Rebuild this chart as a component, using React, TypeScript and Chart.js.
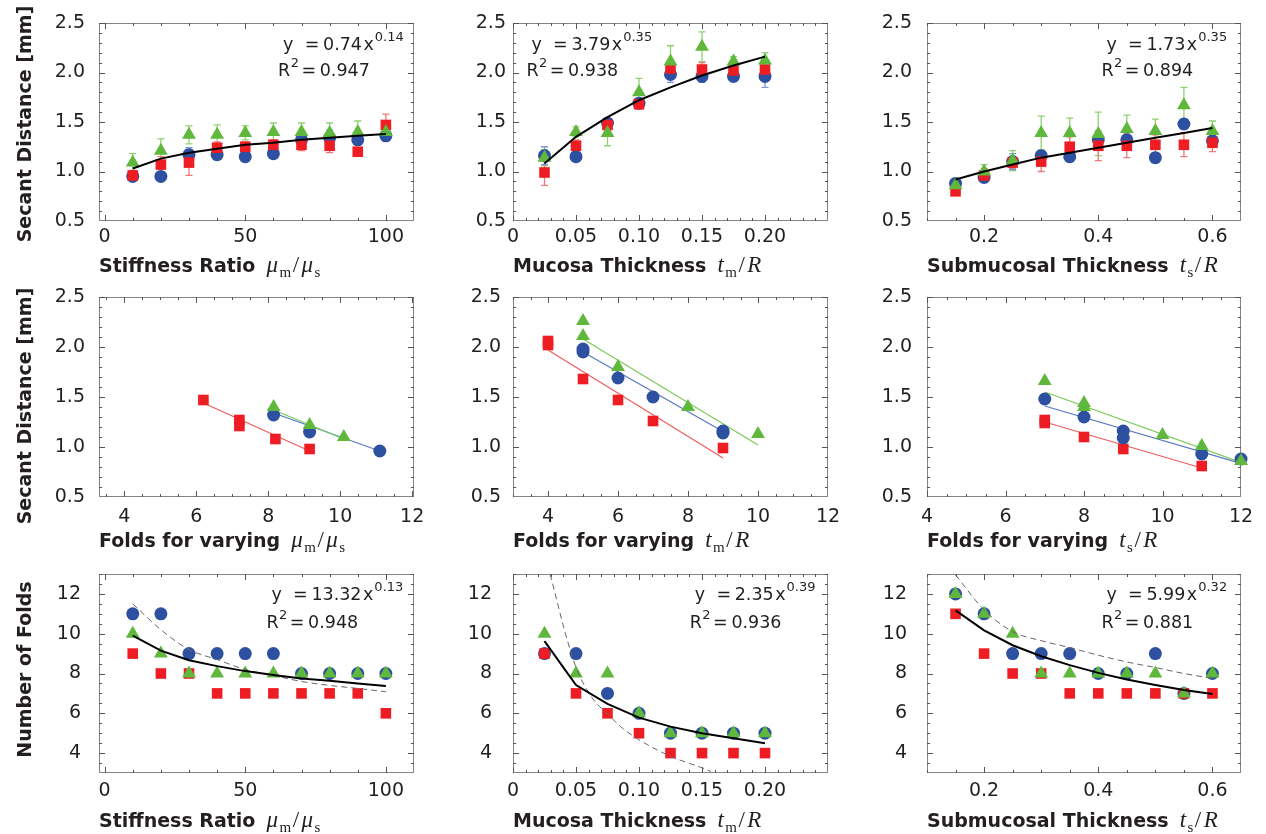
import React, { useEffect, useRef } from "react";
import { Chart, registerables } from "chart.js";
Chart.register(...registerables);

// ---------------- DATA ----------------
const stiffX = [10, 20, 30, 40, 50, 60, 70, 80, 90, 100];
const mucX = [0.025, 0.05, 0.075, 0.1, 0.125, 0.15, 0.175, 0.2];
const subX = [0.15, 0.2, 0.25, 0.3, 0.35, 0.4, 0.45, 0.5, 0.55, 0.6];

// Row 1: secant distance vs parameter
const sdStiffBlue = [0.95, 0.95, 1.17, 1.17, 1.15, 1.18, 1.32, 1.34, 1.32, 1.36];
const sdStiffRed = [0.96, 1.07, 1.09, 1.24, 1.25, 1.27, 1.27, 1.26, 1.2, 1.47];
const sdStiffGreen = [1.09, 1.21, 1.37, 1.37, 1.39, 1.4, 1.4, 1.39, 1.4, 1.4];
const sdStiffFit = [1.03, 1.13, 1.19, 1.23, 1.27, 1.29, 1.32, 1.34, 1.36, 1.38];
const sdStiffBlueErr = [0.04, 0.03, 0.07, 0.05, 0.03, 0.04, 0.05, 0.08, 0.05, 0.05];
const sdStiffRedErr = [0.05, 0.08, 0.13, 0.06, 0.05, 0.05, 0.06, 0.07, 0.04, 0.11];
const sdStiffGreenErr = [0.09, 0.12, 0.09, 0.1, 0.07, 0.09, 0.09, 0.1, 0.11, 0.08];

const sdMucBlue = [1.16, 1.15, 1.49, 1.69, 1.98, 1.96, 1.96, 1.96];
const sdMucRed = [0.99, 1.26, 1.47, 1.68, 2.04, 2.03, 2.02, 2.03];
const sdMucGreen = [1.14, 1.4, 1.39, 1.8, 2.11, 2.26, 2.11, 2.12];
const sdMucFit = [1.08, 1.35, 1.55, 1.72, 1.85, 1.97, 2.07, 2.16];
const sdMucBlueErr = [0.09, 0.04, 0.03, 0.04, 0.08, 0.06, 0.05, 0.11];
const sdMucRedErr = [0.13, 0.06, 0.05, 0.05, 0.07, 0.07, 0.05, 0.1];
const sdMucGreenErr = [0.08, 0.05, 0.13, 0.14, 0.16, 0.15, 0.05, 0.08];

const sdSubBlue = [0.88, 0.94, 1.1, 1.16, 1.15, 1.32, 1.32, 1.14, 1.48, 1.31];
const sdSubRed = [0.8, 0.96, 1.09, 1.1, 1.25, 1.26, 1.26, 1.27, 1.27, 1.29];
const sdSubGreen = [0.86, 1.0, 1.11, 1.39, 1.39, 1.38, 1.43, 1.41, 1.67, 1.41];
const sdSubFit = [0.92, 1.0, 1.07, 1.14, 1.19, 1.24, 1.29, 1.34, 1.39, 1.44];
const sdSubBlueErr = [0.05, 0.05, 0.08, 0.05, 0.05, 0.06, 0.05, 0.05, 0.05, 0.06];
const sdSubRedErr = [0.04, 0.07, 0.06, 0.1, 0.1, 0.15, 0.12, 0.1, 0.12, 0.09];
const sdSubGreenErr = [0.06, 0.07, 0.1, 0.17, 0.15, 0.22, 0.14, 0.12, 0.18, 0.1];

// Row 2: secant distance vs folds
const fsStiffRedX = [6.2, 7.2, 7.2, 8.2, 9.15];
const fsStiffRedY = [1.47, 1.27, 1.21, 1.08, 0.98];
const fsStiffBlueX = [8.15, 9.15, 11.1];
const fsStiffBlueY = [1.32, 1.15, 0.96];
const fsStiffGreenX = [8.15, 9.15, 10.1];
const fsStiffGreenY = [1.4, 1.22, 1.1];
const fsStiffRedLineX = [6.2, 9.15];
const fsStiffRedLineY = [1.44, 0.96];
const fsStiffBlueLineX = [8.15, 11.1];
const fsStiffBlueLineY = [1.34, 0.96];
const fsStiffGreenLineX = [8.15, 10.1];
const fsStiffGreenLineY = [1.37, 1.08];

const fsMucRedX = [4, 4, 5, 6, 7, 9];
const fsMucRedY = [2.02, 2.06, 1.68, 1.47, 1.26, 0.99];
const fsMucBlueX = [5, 5, 6, 7, 9, 9];
const fsMucBlueY = [1.95, 1.98, 1.69, 1.5, 1.14, 1.16];
const fsMucGreenX = [5, 5, 6, 8, 10];
const fsMucGreenY = [2.26, 2.11, 1.8, 1.4, 1.13];
const fsMucRedLineX = [4, 9];
const fsMucRedLineY = [1.97, 0.89];
const fsMucBlueLineX = [5, 9];
const fsMucBlueLineY = [1.95, 1.155];
const fsMucGreenLineX = [5, 10];
const fsMucGreenLineY = [2.08, 1.02];

const fsSubRedX = [7, 7, 8, 9, 11];
const fsSubRedY = [1.24, 1.27, 1.1, 0.98, 0.81];
const fsSubBlueX = [7, 8, 9, 9, 11, 12];
const fsSubBlueY = [1.48, 1.3, 1.16, 1.09, 0.93, 0.88];
const fsSubGreenX = [7, 8, 8, 10, 11, 12];
const fsSubGreenY = [1.66, 1.4, 1.44, 1.12, 1.01, 0.86];
const fsSubRedLineX = [7, 11];
const fsSubRedLineY = [1.25, 0.79];
const fsSubBlueLineX = [7, 12];
const fsSubBlueLineY = [1.41, 0.835];
const fsSubGreenLineX = [7, 12];
const fsSubGreenLineY = [1.55, 0.845];

// Row 3: number of folds
const nfStiffBlue = [11, 11, 9, 9, 9, 9, 8, 8, 8, 8];
const nfStiffRed = [9, 8, 8, 7, 7, 7, 7, 7, 7, 6];
const nfStiffGreen = [10, 9, 8, 8, 8, 8, 8, 8, 8, 8];
const nfStiffFit = [9.9, 9.15, 8.67, 8.37, 8.12, 7.92, 7.75, 7.63, 7.5, 7.37];
const nfStiffDash = [11.5, 10.2, 9.2, 8.7, 8.2, 7.9, 7.6, 7.4, 7.25, 7.08];

const nfMucBlue = [9, 9, 7, 6, 5, 5, 5, 5];
const nfMucRed = [9, 7, 6, 5, 4, 4, 4, 4];
const nfMucGreen = [10, 8, 8, 6, 5, 5, 5, 5];
const nfMucFit = [9.63, 7.42, 6.47, 5.78, 5.33, 5.0, 4.75, 4.5];
const nfMucDashX = [0.0295, 0.0348, 0.0402, 0.0455, 0.0508, 0.064, 0.0747, 0.0854, 0.1, 0.1253, 0.1505, 0.157];
const nfMucDashY = [13.0, 11.67, 10.33, 9.17, 8.17, 6.67, 6.0, 5.33, 4.67, 3.83, 3.25, 3.08];

const nfSubBlue = [12, 11, 9, 9, 9, 8, 8, 9, 7, 8];
const nfSubRed = [11, 9, 8, 8, 7, 7, 7, 7, 7, 7];
const nfSubGreen = [12, 11, 10, 8, 8, 8, 8, 8, 7, 8];
const nfSubFit = [11.17, 10.17, 9.42, 8.87, 8.42, 8.03, 7.7, 7.42, 7.17, 6.97];
const nfSubDash = [12.95, 11.2, 10.1, 9.65, 9.3, 8.92, 8.58, 8.3, 8.0, 7.75];

// Fit equations: [coefficient, exponent, R^2]
const eqSdStiff = ["0.74", "0.14", "0.947"];
const eqSdMuc = ["3.79", "0.35", "0.938"];
const eqSdSub = ["1.73", "0.35", "0.894"];
const eqNfStiff = ["13.32", "0.13", "0.948"];
const eqNfMuc = ["2.35", "0.39", "0.936"];
const eqNfSub = ["5.99", "0.32", "0.881"];

// Tick values and labels
const stiffTicks = [0, 50, 100];
const stiffLabels = ["0", "50", "100"];
const mucTicks = [0, 0.05, 0.1, 0.15, 0.2];
const mucLabels = ["0", "0.05", "0.10", "0.15", "0.20"];
const subTicks = [0.2, 0.4, 0.6];
const subLabels = ["0.2", "0.4", "0.6"];
const foldTicks = [4, 6, 8, 10, 12];
const foldLabels = ["4", "6", "8", "10", "12"];
const secTicks = [0.5, 1, 1.5, 2, 2.5];
const secLabels = ["0.5", "1.0", "1.5", "2.0", "2.5"];
const nfTicks = [4, 6, 8, 10, 12];
const nfLabels = ["4", "6", "8", "10", "12"];

// Axis titles
const yTitles = ["Secant Distance [mm]", "Secant Distance [mm]", "Number of Folds"];

// ---------------- LAYOUT / STYLE ----------------
const BOX_L = [99, 513, 927];
const BOX_W = [315, 315, 314];
const BOX_T = [23, 297, 574];
const BOX_H = [198, 200, 199];
const YW = 99;
const PADT = 23;
const PADR = 16;
const XH = 62;
const Y_LABEL_PAD = [
  [14, 7, 15],
  [14, 12, 15],
  [18, 21, 20],
];
const X_LABEL_PAD = [5, 8.5, 6.5];
const X_TITLE_DY = [51, 49.5, 54];
const Y_TITLE_DY = [2, 9, -4];
const EQ_B = [
  [26.9, 52.9],
  [0, 0],
  [26.3, 54.3],
];
const TEXT = "#231f20";
const SANS = '"DejaVu Sans"';
const SERIF = '"Liberation Serif"';

const MK: Record<string, any> = {
  blue: { style: "circle", r: 6.5, color: "#2d50a0", err: "#8098d0", line: "#5877c4" },
  red: { style: "rect", r: 7.5, color: "#ee1d23", err: "#f07878", line: "#f05a5a" },
  green: { style: "triangle", r: 8, color: "#5fb83c", err: "#8fd172", line: "#7acb5a" },
};

type MathPart = [string, "i" | "r" | "sub"];
type MarkerSet = { x: number[]; y: number[]; kind: "blue" | "red" | "green"; err?: number[] };
type LineSet = { x: number[]; y: number[]; kind: "fit" | "dash" | "blue" | "red" | "green" };
type PanelDef = {
  r: number;
  c: number;
  xMin: number;
  xMax: number;
  yMin: number;
  yMax: number;
  xTicks: number[];
  xLabels: string[];
  xMinor: number;
  yTicks: number[];
  yLabels: string[];
  yMinor: number;
  markers: MarkerSet[];
  topLines: LineSet[];
  bottomLines: LineSet[];
  titleMain: string;
  titleMath: MathPart[];
  eq?: string[];
  eqDx?: number;
};

const mathStiff: MathPart[] = [["μ", "i"], ["m", "sub"], ["/", "r"], ["μ", "i"], ["s", "sub"]];
const mathMuc: MathPart[] = [["t", "i"], ["m", "sub"], ["/", "r"], ["R", "i"]];
const mathSub: MathPart[] = [["t", "i"], ["s", "sub"], ["/", "r"], ["R", "i"]];

const PANELS: PanelDef[] = [
  {
    r: 0, c: 0, xMin: -2, xMax: 110, yMin: 0.5, yMax: 2.5,
    xTicks: stiffTicks, xLabels: stiffLabels, xMinor: 10,
    yTicks: secTicks, yLabels: secLabels, yMinor: 0.1,
    markers: [
      { x: stiffX, y: sdStiffGreen, kind: "green", err: sdStiffGreenErr },
      { x: stiffX, y: sdStiffRed, kind: "red", err: sdStiffRedErr },
      { x: stiffX, y: sdStiffBlue, kind: "blue", err: sdStiffBlueErr },
    ],
    topLines: [{ x: stiffX, y: sdStiffFit, kind: "fit" }],
    bottomLines: [],
    titleMain: "Stiffness Ratio", titleMath: mathStiff,
    eq: eqSdStiff, eqDx: 179,
  },
  {
    r: 0, c: 1, xMin: 0, xMax: 0.25, yMin: 0.5, yMax: 2.5,
    xTicks: mucTicks, xLabels: mucLabels, xMinor: 0.01,
    yTicks: secTicks, yLabels: secLabels, yMinor: 0.1,
    markers: [
      { x: mucX, y: sdMucGreen, kind: "green", err: sdMucGreenErr },
      { x: mucX, y: sdMucRed, kind: "red", err: sdMucRedErr },
      { x: mucX, y: sdMucBlue, kind: "blue", err: sdMucBlueErr },
    ],
    topLines: [{ x: mucX, y: sdMucFit, kind: "fit" }],
    bottomLines: [],
    titleMain: "Mucosa Thickness", titleMath: mathMuc,
    eq: eqSdMuc, eqDx: 13.4,
  },
  {
    r: 0, c: 2, xMin: 0.1, xMax: 0.65, yMin: 0.5, yMax: 2.5,
    xTicks: subTicks, xLabels: subLabels, xMinor: 0.05,
    yTicks: secTicks, yLabels: secLabels, yMinor: 0.1,
    markers: [
      { x: subX, y: sdSubGreen, kind: "green", err: sdSubGreenErr },
      { x: subX, y: sdSubRed, kind: "red", err: sdSubRedErr },
      { x: subX, y: sdSubBlue, kind: "blue", err: sdSubBlueErr },
    ],
    topLines: [{ x: subX, y: sdSubFit, kind: "fit" }],
    bottomLines: [],
    titleMain: "Submucosal Thickness", titleMath: mathSub,
    eq: eqSdSub, eqDx: 174.4,
  },
  {
    r: 1, c: 0, xMin: 3.3, xMax: 12.05, yMin: 0.5, yMax: 2.5,
    xTicks: foldTicks, xLabels: foldLabels, xMinor: 0.5,
    yTicks: secTicks, yLabels: secLabels, yMinor: 0.1,
    markers: [
      { x: fsStiffGreenX, y: fsStiffGreenY, kind: "green" },
      { x: fsStiffBlueX, y: fsStiffBlueY, kind: "blue" },
      { x: fsStiffRedX, y: fsStiffRedY, kind: "red" },
    ],
    topLines: [],
    bottomLines: [
      { x: fsStiffGreenLineX, y: fsStiffGreenLineY, kind: "green" },
      { x: fsStiffBlueLineX, y: fsStiffBlueLineY, kind: "blue" },
      { x: fsStiffRedLineX, y: fsStiffRedLineY, kind: "red" },
    ],
    titleMain: "Folds for varying", titleMath: mathStiff,
  },
  {
    r: 1, c: 1, xMin: 3, xMax: 12, yMin: 0.5, yMax: 2.5,
    xTicks: foldTicks, xLabels: foldLabels, xMinor: 0.5,
    yTicks: secTicks, yLabels: secLabels, yMinor: 0.1,
    markers: [
      { x: fsMucGreenX, y: fsMucGreenY, kind: "green" },
      { x: fsMucBlueX, y: fsMucBlueY, kind: "blue" },
      { x: fsMucRedX, y: fsMucRedY, kind: "red" },
    ],
    topLines: [],
    bottomLines: [
      { x: fsMucGreenLineX, y: fsMucGreenLineY, kind: "green" },
      { x: fsMucBlueLineX, y: fsMucBlueLineY, kind: "blue" },
      { x: fsMucRedLineX, y: fsMucRedLineY, kind: "red" },
    ],
    titleMain: "Folds for varying", titleMath: mathMuc,
  },
  {
    r: 1, c: 2, xMin: 4, xMax: 12, yMin: 0.5, yMax: 2.5,
    xTicks: foldTicks, xLabels: foldLabels, xMinor: 0.5,
    yTicks: secTicks, yLabels: secLabels, yMinor: 0.1,
    markers: [
      { x: fsSubGreenX, y: fsSubGreenY, kind: "green" },
      { x: fsSubBlueX, y: fsSubBlueY, kind: "blue" },
      { x: fsSubRedX, y: fsSubRedY, kind: "red" },
    ],
    topLines: [],
    bottomLines: [
      { x: fsSubGreenLineX, y: fsSubGreenLineY, kind: "green" },
      { x: fsSubBlueLineX, y: fsSubBlueLineY, kind: "blue" },
      { x: fsSubRedLineX, y: fsSubRedLineY, kind: "red" },
    ],
    titleMain: "Folds for varying", titleMath: mathSub,
  },
  {
    r: 2, c: 0, xMin: -2, xMax: 110, yMin: 3, yMax: 13,
    xTicks: stiffTicks, xLabels: stiffLabels, xMinor: 10,
    yTicks: nfTicks, yLabels: nfLabels, yMinor: 0.5,
    markers: [
      { x: stiffX, y: nfStiffGreen, kind: "green" },
      { x: stiffX, y: nfStiffRed, kind: "red" },
      { x: stiffX, y: nfStiffBlue, kind: "blue" },
    ],
    topLines: [
      { x: stiffX, y: nfStiffFit, kind: "fit" },
      { x: stiffX, y: nfStiffDash, kind: "dash" },
    ],
    bottomLines: [],
    titleMain: "Stiffness Ratio", titleMath: mathStiff,
    eq: eqNfStiff, eqDx: 167.4,
  },
  {
    r: 2, c: 1, xMin: 0, xMax: 0.25, yMin: 3, yMax: 13,
    xTicks: mucTicks, xLabels: mucLabels, xMinor: 0.01,
    yTicks: nfTicks, yLabels: nfLabels, yMinor: 0.5,
    markers: [
      { x: mucX, y: nfMucGreen, kind: "green" },
      { x: mucX, y: nfMucRed, kind: "red" },
      { x: mucX, y: nfMucBlue, kind: "blue" },
    ],
    topLines: [
      { x: mucX, y: nfMucFit, kind: "fit" },
      { x: nfMucDashX, y: nfMucDashY, kind: "dash" },
    ],
    bottomLines: [],
    titleMain: "Mucosa Thickness", titleMath: mathMuc,
    eq: eqNfMuc, eqDx: 176.7,
  },
  {
    r: 2, c: 2, xMin: 0.1, xMax: 0.65, yMin: 3, yMax: 13,
    xTicks: subTicks, xLabels: subLabels, xMinor: 0.05,
    yTicks: nfTicks, yLabels: nfLabels, yMinor: 0.5,
    markers: [
      { x: subX, y: nfSubGreen, kind: "green" },
      { x: subX, y: nfSubRed, kind: "red" },
      { x: subX, y: nfSubBlue, kind: "blue" },
    ],
    topLines: [
      { x: subX, y: nfSubFit, kind: "fit" },
      { x: subX, y: nfSubDash, kind: "dash" },
    ],
    bottomLines: [],
    titleMain: "Submucosal Thickness", titleMath: mathSub,
    eq: eqNfSub, eqDx: 174.4,
  },
];

// ---------------- CHART BUILDING ----------------
const pts = (x: number[], y: number[]) => x.map((v, i) => ({ x: v, y: y[i] }));

function lineDataset(l: LineSet) {
  let color = "#000";
  let width = 2;
  let dash: number[] = [];
  if (l.kind === "dash") {
    color = "#666";
    width = 1;
    dash = [6, 4];
  } else if (l.kind !== "fit") {
    color = MK[l.kind].line;
    width = 1.2;
  }
  return {
    data: pts(l.x, l.y),
    showLine: true,
    pointRadius: 0,
    pointHoverRadius: 0,
    borderColor: color,
    borderWidth: width,
    borderDash: dash,
    tension: 0,
    cubicInterpolationMode: l.kind === "dash" ? "monotone" : "default",
    fill: false,
  };
}

function markerDataset(m: MarkerSet) {
  const st = MK[m.kind];
  return {
    data: pts(m.x, m.y),
    showLine: false,
    pointStyle: st.style,
    pointRadius: st.r,
    pointHoverRadius: st.r,
    pointBackgroundColor: st.color,
    pointBorderColor: st.color,
    pointBorderWidth: 0,
    clip: false,
    errorBars: m.err,
    errorColor: st.err,
  };
}

function stepValues(min: number, max: number, step: number) {
  const out: number[] = [];
  const k0 = Math.ceil(min / step - 1e-9);
  const k1 = Math.floor(max / step + 1e-9);
  for (let k = k0; k <= k1; k++) out.push(k * step);
  return out;
}

function makePlugin(p: PanelDef) {
  return {
    id: "panelDeco" + p.r + p.c,
    beforeDatasetsDraw(chart: any) {
      const { ctx, chartArea: a, scales } = chart;
      const xs = scales.x;
      const ys = scales.y;
      ctx.save();
      // frame
      ctx.strokeStyle = "#858585";
      ctx.lineWidth = 1;
      ctx.strokeRect(a.left + 0.5, a.top + 0.5, a.right - a.left - 1, a.bottom - a.top - 1);
      // inward ticks
      ctx.strokeStyle = "#555";
      const tickX = (v: number, len: number) => {
        const px = Math.round(xs.getPixelForValue(v)) + 0.5;
        if (px < a.left || px > a.right) return;
        ctx.beginPath();
        ctx.moveTo(px, a.bottom);
        ctx.lineTo(px, a.bottom - len);
        ctx.moveTo(px, a.top);
        ctx.lineTo(px, a.top + len);
        ctx.stroke();
      };
      const tickY = (v: number, len: number) => {
        const py = Math.round(ys.getPixelForValue(v)) + 0.5;
        if (py < a.top || py > a.bottom) return;
        ctx.beginPath();
        ctx.moveTo(a.left, py);
        ctx.lineTo(a.left + len, py);
        ctx.moveTo(a.right, py);
        ctx.lineTo(a.right - len, py);
        ctx.stroke();
      };
      stepValues(p.xMin, p.xMax, p.xMinor).forEach((v) => tickX(v, 3));
      p.xTicks.forEach((v) => tickX(v, 6));
      stepValues(p.yMin, p.yMax, p.yMinor).forEach((v) => tickY(v, 3));
      p.yTicks.forEach((v) => tickY(v, 6));
      // error bars
      chart.data.datasets.forEach((ds: any) => {
        if (!ds.errorBars) return;
        ctx.strokeStyle = ds.errorColor;
        ctx.lineWidth = 1.3;
        ds.data.forEach((d: any, i: number) => {
          const e = ds.errorBars[i];
          const px = xs.getPixelForValue(d.x);
          const y1 = ys.getPixelForValue(d.y - e);
          const y2 = ys.getPixelForValue(d.y + e);
          ctx.beginPath();
          ctx.moveTo(px, y1);
          ctx.lineTo(px, y2);
          ctx.moveTo(px - 3.5, y1);
          ctx.lineTo(px + 3.5, y1);
          ctx.moveTo(px - 3.5, y2);
          ctx.lineTo(px + 3.5, y2);
          ctx.stroke();
        });
      });
      ctx.restore();
    },
    afterDraw(chart: any) {
      const { ctx, chartArea: a } = chart;
      ctx.save();
      ctx.fillStyle = TEXT;
      ctx.textAlign = "left";
      ctx.textBaseline = "alphabetic";
      // x title
      const by = a.bottom + X_TITLE_DY[p.r];
      ctx.font = `bold 19px ${SANS}`;
      ctx.fillText(p.titleMain, a.left, by);
      let xx = a.left + ctx.measureText(p.titleMain).width + 11;
      for (const [t, k] of p.titleMath) {
        if (k === "i") ctx.font = `italic 23px ${SERIF}`;
        else if (k === "sub") ctx.font = `15px ${SERIF}`;
        else ctx.font = `23px ${SERIF}`;
        ctx.fillText(t, xx, k === "sub" ? by + 5 : by);
        xx += ctx.measureText(t).width + (k === "r" ? 2.5 : 1.5);
      }
      // y title
      if (p.c === 0) {
        ctx.save();
        ctx.translate(a.left - 73.2, (a.top + a.bottom) / 2 + Y_TITLE_DY[p.r]);
        ctx.rotate(-Math.PI / 2);
        ctx.font = `bold 19px ${SANS}`;
        ctx.textAlign = "center";
        ctx.textBaseline = "middle";
        ctx.fillText(yTitles[p.r], 0, 0);
        ctx.restore();
      }
      // equation
      if (p.eq) {
        const [coef, ex, r2] = p.eq;
        const x0 = a.left + (p.eqDx || 0);
        const b1 = a.top + EQ_B[p.r][0];
        const b2 = a.top + EQ_B[p.r][1];
        const EQF = `17.5px ${SANS}`;
        const SUPF = `13px ${SANS}`;
        ctx.font = EQF;
        ctx.fillText("y", x0 + 5, b1);
        ctx.fillText("=", x0 + 26.7, b1);
        let ex0 = x0 + 26.7 + 18.3;
        ctx.fillText(coef, ex0, b1);
        ex0 += ctx.measureText(coef).width + 1.5;
        ctx.fillText("x", ex0, b1);
        ex0 += ctx.measureText("x").width + 1;
        ctx.font = SUPF;
        ctx.fillText(ex, ex0, b1 - 9);
        ctx.font = EQF;
        ctx.fillText("R", x0, b2);
        const rw = ctx.measureText("R").width;
        ctx.font = SUPF;
        ctx.fillText("2", x0 + rw + 0.5, b2 - 9);
        ctx.font = EQF;
        ctx.fillText("=", x0 + 23.4, b2);
        ctx.fillText(r2, x0 + 23.4 + 18.3, b2);
      }
      ctx.restore();
    },
  };
}

function buildConfig(p: PanelDef): any {
  const datasets: any[] = [
    ...p.topLines.map(lineDataset),
    ...p.markers.map(markerDataset),
    ...p.bottomLines.map(lineDataset),
  ];
  const tickFont = { family: "DejaVu Sans", size: 19 };
  return {
    type: "scatter",
    data: { datasets },
    options: {
      responsive: false,
      animation: false,
      events: [],
      layout: { padding: { left: 0, top: PADT, right: PADR, bottom: 0 } },
      plugins: {
        legend: { display: false },
        tooltip: { enabled: false },
        title: { display: false },
      },
      scales: {
        x: {
          type: "linear",
          min: p.xMin,
          max: p.xMax,
          grid: { display: false, drawTicks: false },
          border: { display: false },
          ticks: {
            font: tickFont,
            color: TEXT,
            padding: X_LABEL_PAD[p.r],
            autoSkip: false,
            maxRotation: 0,
            minRotation: 0,
            callback: (_v: any, i: number) => p.xLabels[i],
          },
          afterBuildTicks: (s: any) => {
            s.ticks = p.xTicks.map((v) => ({ value: v }));
          },
          afterFit: (s: any) => {
            s.height = XH;
            s.paddingLeft = 0;
            s.paddingRight = 0;
          },
        },
        y: {
          type: "linear",
          min: p.yMin,
          max: p.yMax,
          grid: { display: false, drawTicks: false },
          border: { display: false },
          ticks: {
            font: tickFont,
            color: TEXT,
            padding: Y_LABEL_PAD[p.r][p.c],
            autoSkip: false,
            callback: (_v: any, i: number) => p.yLabels[i],
          },
          afterBuildTicks: (s: any) => {
            s.ticks = p.yTicks.map((v) => ({ value: v }));
          },
          afterFit: (s: any) => {
            s.width = YW;
            s.paddingTop = 0;
            s.paddingBottom = 0;
          },
        },
      },
    },
    plugins: [makePlugin(p)],
  };
}

function PanelChart({ p }: { p: PanelDef }) {
  const ref = useRef<HTMLCanvasElement>(null);
  const W = YW + BOX_W[p.c] + PADR;
  const H = PADT + BOX_H[p.r] + XH;
  useEffect(() => {
    const chart = new Chart(ref.current as HTMLCanvasElement, buildConfig(p));
    return () => chart.destroy();
  }, [p]);
  return (
    <canvas
      ref={ref}
      width={W}
      height={H}
      style={{
        position: "absolute",
        left: BOX_L[p.c] - YW,
        top: BOX_T[p.r] - PADT,
        width: W,
        height: H,
      }}
    />
  );
}

export default function App() {
  return (
    <div
      style={{
        position: "fixed",
        left: 0,
        top: 0,
        width: 1266,
        height: 834,
        overflow: "hidden",
        background: "#fff",
      }}
    >
      {PANELS.map((p) => (
        <PanelChart key={`${p.r}-${p.c}`} p={p} />
      ))}
    </div>
  );
}
